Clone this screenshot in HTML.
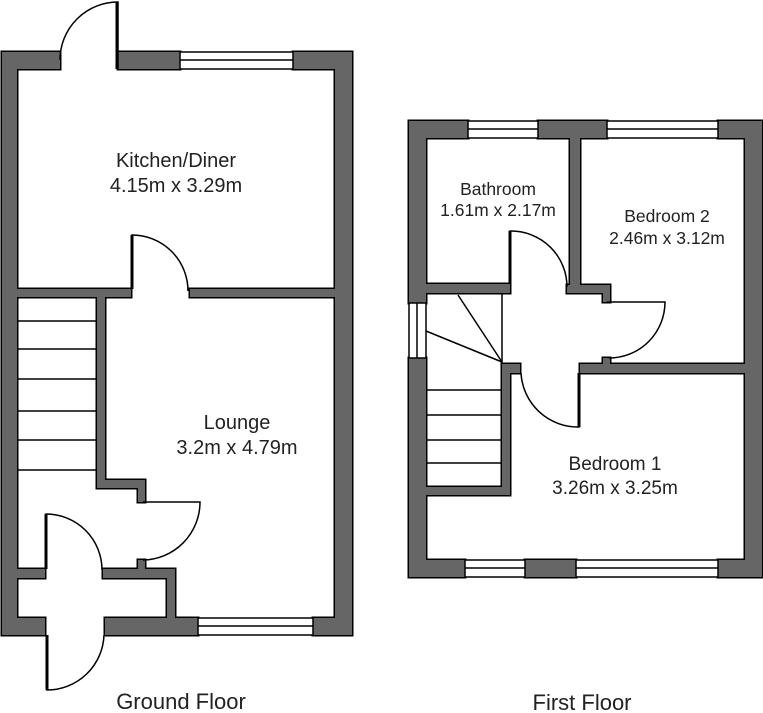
<!DOCTYPE html>
<html><head><style>body{margin:0;background:#fff}svg{display:block}text{font-family:"Liberation Sans",Arial,sans-serif;fill:#222;text-anchor:middle}</style></head>
<body>
<svg width="763" height="713" viewBox="0 0 763 713">
<defs>
<g id="w">
<rect x="2" y="52" width="58" height="17"/>
<rect x="118" y="52" width="62" height="17"/>
<rect x="293" y="52" width="59" height="17"/>
<rect x="2" y="52" width="15" height="583"/>
<rect x="335" y="52" width="17" height="583"/>
<rect x="17" y="289" width="114" height="8"/>
<rect x="190" y="289" width="145" height="8"/>
<rect x="97" y="297" width="8" height="191"/>
<rect x="97" y="480" width="48" height="8"/>
<rect x="138" y="480" width="7" height="22"/>
<rect x="138" y="560" width="7" height="10"/>
<rect x="17" y="569" width="28" height="9"/>
<rect x="103" y="569" width="72" height="9"/>
<rect x="167" y="569" width="8" height="49"/>
<rect x="2" y="618" width="43" height="17"/>
<rect x="105" y="618" width="93" height="17"/>
<rect x="313" y="618" width="39" height="17"/>
<rect x="409" y="121" width="59" height="17"/>
<rect x="538" y="121" width="69" height="17"/>
<rect x="718" y="121" width="44" height="17"/>
<rect x="409" y="121" width="17" height="182"/>
<rect x="409" y="358" width="17" height="219"/>
<rect x="745" y="121" width="17" height="456"/>
<rect x="409" y="560" width="56" height="17"/>
<rect x="525" y="560" width="51" height="17"/>
<rect x="718" y="560" width="44" height="17"/>
<rect x="570" y="138" width="10" height="155"/>
<rect x="426" y="284" width="84" height="9"/>
<rect x="567" y="285" width="43" height="8"/>
<rect x="603" y="285" width="7" height="17"/>
<rect x="603" y="358" width="7" height="8"/>
<rect x="580" y="364" width="165" height="9"/>
<rect x="502" y="364" width="18" height="9"/>
<rect x="502" y="364" width="8" height="131"/>
<rect x="426" y="487" width="84" height="8"/>
</g>
</defs>
<use href="#w" stroke="#000" stroke-width="3"/>
<use href="#w" fill="#666"/>
<g fill="#fff" stroke="#000" stroke-width="1.5">
<rect x="180" y="52" width="113" height="17"/><line x1="180" y1="60" x2="293" y2="60"/>
<rect x="198" y="618" width="115" height="17"/><line x1="198" y1="626" x2="313" y2="626"/>
<rect x="468" y="121" width="70" height="17"/><line x1="468" y1="129" x2="538" y2="129"/>
<rect x="607" y="121" width="111" height="17"/><line x1="607" y1="129" x2="718" y2="129"/>
<rect x="465" y="560" width="60" height="17"/><line x1="465" y1="568" x2="525" y2="568"/>
<rect x="576" y="560" width="142" height="17"/><line x1="576" y1="568" x2="718" y2="568"/>
<rect x="409" y="303" width="17" height="55"/><line x1="417" y1="303" x2="417" y2="358"/>
</g>
<g fill="none" stroke="#000" stroke-width="1.5">
<line x1="17" y1="321" x2="97" y2="321"/><line x1="17" y1="349" x2="97" y2="349"/>
<line x1="17" y1="379" x2="97" y2="379"/><line x1="17" y1="411" x2="97" y2="411"/>
<line x1="17" y1="440" x2="97" y2="440"/><line x1="17" y1="470" x2="97" y2="470"/>
<path d="M118 69 V2 A58 58 0 0 0 60 60" />
<line x1="117" y1="2" x2="117" y2="69" stroke-width="3"/>
<path d="M132 289 V235 A56 56 0 0 1 188 291"/><line x1="132" y1="235" x2="132" y2="289" stroke-width="3"/>
<path d="M143 502 H200 A58 58 0 0 1 143 560"/>
<path d="M46 569 V514 A56 56 0 0 1 102 570"/><line x1="46" y1="514" x2="46" y2="569" stroke-width="3"/>
<path d="M47 635 V690 A57 57 0 0 0 104 635"/><line x1="47" y1="635" x2="47" y2="690" stroke-width="3"/>
<line x1="502" y1="293" x2="502" y2="364"/>
<line x1="502" y1="362" x2="458" y2="295"/><line x1="502" y1="362" x2="426" y2="331"/>
<line x1="426" y1="390" x2="502" y2="390"/><line x1="426" y1="415" x2="502" y2="415"/>
<line x1="426" y1="440" x2="502" y2="440"/><line x1="426" y1="463" x2="502" y2="463"/>
<path d="M510 284 V231 A56 56 0 0 1 567 287"/><line x1="510" y1="231" x2="510" y2="284" stroke-width="3"/>
<path d="M607 302 H665 A56 56 0 0 1 609 358"/>
<path d="M579 373 V427 A57 57 0 0 1 521 373"/><line x1="579" y1="373" x2="579" y2="427" stroke-width="3"/>
</g>
<text x="176" y="167" font-size="20">Kitchen/Diner</text>
<text x="176" y="192" font-size="20">4.15m x 3.29m</text>
<text x="237" y="429" font-size="20">Lounge</text>
<text x="237" y="454" font-size="20">3.2m x 4.79m</text>
<text x="498" y="195" font-size="17.5">Bathroom</text>
<text x="498" y="216" font-size="17.5">1.61m x 2.17m</text>
<text x="667" y="222" font-size="17.5">Bedroom 2</text>
<text x="667" y="244" font-size="17.5">2.46m x 3.12m</text>
<text x="615" y="470" font-size="19">Bedroom 1</text>
<text x="615" y="494" font-size="19">3.26m x 3.25m</text>
<text x="181" y="709" font-size="22">Ground Floor</text>
<text x="582" y="710" font-size="22">First Floor</text>
</svg>
</body></html>
